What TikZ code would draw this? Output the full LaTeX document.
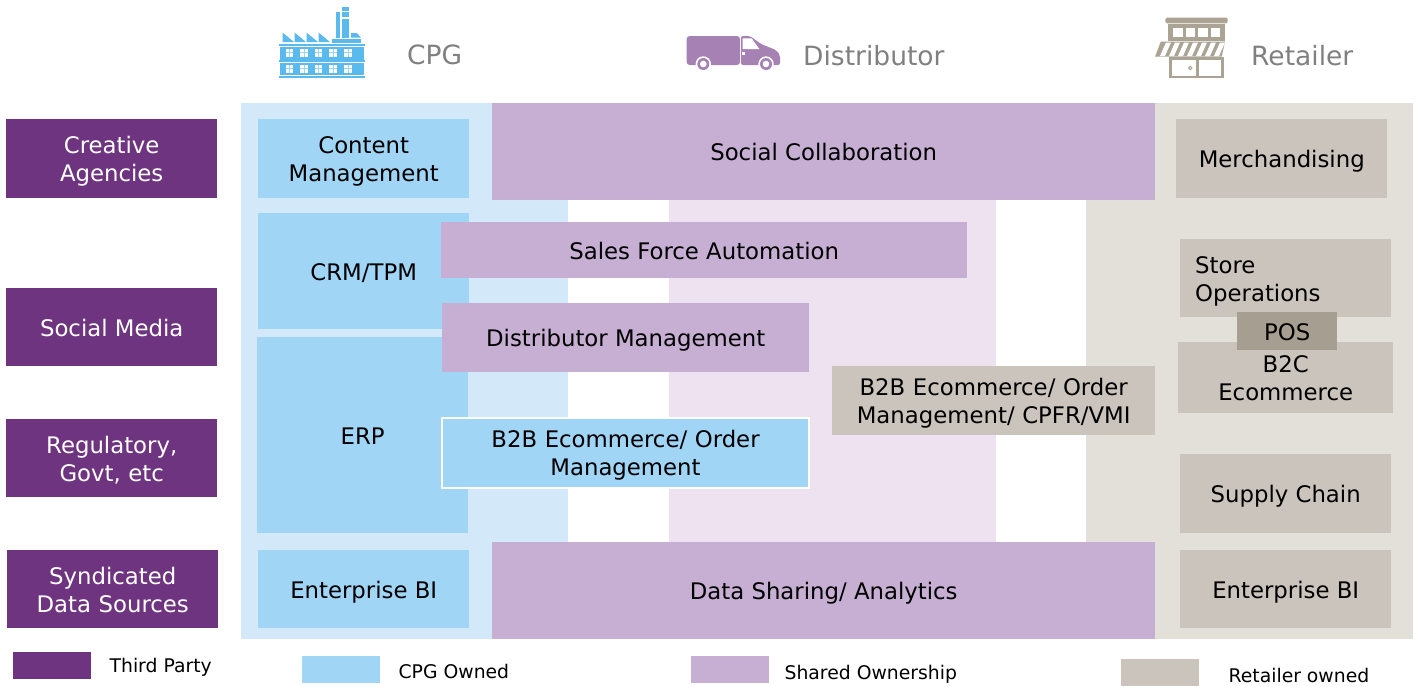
\documentclass[tikz,border=0pt]{standalone}
\usepackage{fontspec}
\setmainfont{DejaVu Sans}
\usetikzlibrary{positioning}

\definecolor{bandblue}{HTML}{D3E9F9}
\definecolor{bandlilac}{HTML}{EEE2F0}
\definecolor{bandtaupe}{HTML}{E3E0DA}
\definecolor{ownblue}{HTML}{A1D5F6}
\definecolor{ownlilac}{HTML}{C7AFD4}
\definecolor{owntaupe}{HTML}{CBC4BC}
\definecolor{thirdparty}{HTML}{6F3480}
\definecolor{posgrey}{HTML}{A69E90}
\definecolor{iconblue}{HTML}{5ABAEE}
\definecolor{iconlilac}{HTML}{A682B4}
\definecolor{icontaupe}{HTML}{ABA394}
\definecolor{headgrey}{HTML}{808080}

\begin{document}
\begin{tikzpicture}[x=1pt,y=-1pt,
	box/.style 2 args={anchor=north west,inner sep=0pt,align=center,text=black,
		minimum width=#1pt,minimum height=#2pt,font=\fontsize{22.8}{28}\selectfont,
		execute at begin node={\rule{0pt}{26pt}},
		execute at end node={\rule[-8pt]{0pt}{8pt}}},
	head/.style={anchor=west,inner sep=0pt,text=headgrey,font=\fontsize{26.5}{30}\selectfont},
	legend/.style={anchor=north west,minimum width=78pt,minimum height=27pt,inner sep=0pt,fill=#1},
	legendtext/.style={inner sep=0pt,right=18pt of #1,text=black,font=\fontsize{18.8}{22}\selectfont}]
	\useasboundingbox (0,0) rectangle (1417,686);

	% bands
	\fill[bandblue] (241,103) rectangle (568,639);
	\fill[bandlilac] (669,200) rectangle (996,542);
	\fill[bandtaupe] (1086,200) rectangle (1413,542);
	\fill[bandtaupe] (1155,103) rectangle (1413,639);

	% third party column
	\node[box={211}{79},text width=211pt,fill=thirdparty,text=white] (creative) at (6,119) {Creative\\Agencies};
	\node[box={211}{78},fill=thirdparty,text=white] (social) at (6,288) {Social Media};
	\node[box={211}{78},text width=211pt,fill=thirdparty,text=white] (regulatory) at (6,419) {Regulatory,\\Govt, etc};
	\node[box={211}{78},text width=211pt,fill=thirdparty,text=white] (syndicated) at (7,550) {Syndicated\\Data Sources};

	% cpg column
	\node[box={211}{79},text width=211pt,fill=ownblue] (content) at (258,119) {Content\\Management};
	\node[box={211}{116},fill=ownblue] (crm) at (258,213) {CRM/TPM};
	\node[box={211}{196},fill=ownblue] (erp) at (257,337) {ERP};
	\node[box={211}{78},fill=ownblue] (cpgbi) at (258,550) {Enterprise BI};

	% shared
	\node[box={663}{97},fill=ownlilac] (collab) at (492,103) {Social Collaboration};
	\node[box={663}{97},fill=ownlilac] (sharing) at (492,542) {Data Sharing/ Analytics};
	\node[box={526}{56},fill=ownlilac] (sfa) at (441,222) {Sales Force Automation};
	\node[box={367}{69},fill=ownlilac] (distmgmt) at (442,303) {Distributor Management};
	\node[box={367}{70},text width=363pt,fill=ownblue,draw=white,line width=2pt] (b2bcpg) at (441,416.5) {B2B Ecommerce/ Order\\Management};
	\node[box={323}{69},text width=323pt,fill=owntaupe] (b2bdist) at (832,366) {B2B Ecommerce/ Order\\Management/ CPFR/VMI};

	% retailer column
	\node[box={211}{79},fill=owntaupe] (merch) at (1176,119) {Merchandising};
	\node[box={211}{78},fill=owntaupe,align=left,text width=181pt,inner xsep=15pt] (store) at (1180,239) {Store\\Operations};
	\node[box={215}{71},text width=215pt,fill=owntaupe] (b2c) at (1178,342) {B2C\\Ecommerce};
	\node[box={100}{38},fill=posgrey] (pos) at (1237,312) {POS};
	\node[box={211}{79},fill=owntaupe] (supply) at (1180,454) {Supply Chain};
	\node[box={211}{78},fill=owntaupe] (retailbi) at (1180,550) {Enterprise BI};

	% headers
	\node[head] (cpg) at (407,55) {CPG};
	\node[head] (distributor) at (803,56) {Distributor};
	\node[head] (retailer) at (1251,56) {Retailer};

	% legend
	\node[legend=thirdparty] (keythird) at (13,652) {};
	\node[legendtext=keythird,yshift=-2pt] {Third Party};
	\node[legend=ownblue] (keycpg) at (302,656) {};
	\node[legendtext=keycpg,yshift=-2pt] {CPG Owned};
	\node[legend=ownlilac] (keyshared) at (691,656) {};
	\node[legendtext=keyshared,xshift=-3pt,yshift=-5pt] {Shared Ownership};
	\node[legend=owntaupe] (keyretail) at (1121,659) {};
	\node[legendtext=keyretail,xshift=11pt,yshift=-3pt] {Retailer owned};

	% factory
	\begin{scope}[iconblue]
	\fill (279,44) rectangle (365,46);
	\fill (280,47) rectangle (364,59.5);
	\fill (279,60) rectangle (365,62);
	\fill (280,63) rectangle (364,75);
	\fill (279,76) rectangle (365,78);
	\foreach \i in {0,1,2,3}
		\fill (282.7+12*\i,32.7) -- (282.7+12*\i,42) -- (294+12*\i,42) -- cycle;
	\fill (332,38.7) rectangle (361,43);
	\fill (336,12) rectangle (340.3,37.7);
	\fill (342,6.7) rectangle (349,11);
	\fill (342,12) rectangle (349,16.7);
	\fill (342,18.7) rectangle (349,37.7);
	\fill (351,33) -- (356.7,33) -- (361,37.7) -- (351,37.7) -- cycle;
	\foreach \x in {286,300.3,315,329.3,344.3}
		\foreach \y in {49,65}{
			\fill[white] (\x,\y) rectangle (\x+7.4,\y+7.7);
			\draw[iconblue!60,line width=0.8pt] (\x+3.7,\y) -- (\x+3.7,\y+7.7) (\x,\y+3.8) -- (\x+7.4,\y+3.8);
		}
	\end{scope}

	% van
	\fill[iconlilac,rounded corners=3pt] (686.7,36) rectangle (740,65);
	\fill[iconlilac,rounded corners=2pt] (741,36) -- (750,36) -- (761,44) -- (776,50) -- (780,55) -- (780,65) -- (741,65) -- cycle;
	\fill[white] (742.7,38.3) -- (751.7,38.3) -- (759.3,49) -- (742.7,49) -- cycle;
	\fill[white] (742,52.3) rectangle (744.7,55);
	\foreach \x in {703.3,766}{
		\fill[white] (\x,64) circle (7.7pt);
		\fill[iconlilac] (\x,64) circle (6pt);
		\fill[white] (\x,64) circle (3.3pt);
	}

	% store
	\begin{scope}[icontaupe]
	\fill[rounded corners=1.5pt] (1165.3,23.3) -- (1165.3,17.7) -- (1227.7,17.7) -- (1227.7,23.3) -- cycle;
	\fill (1168.3,24) rectangle (1225,43.3);
	\foreach \x in {1173.3,1185.7,1198.3,1210.7}
		\fill[white] (\x,27.7) rectangle (\x+9.4,37.3);
	\fill[white] (1159,40.5) rectangle (1227,44);
	\fill (1160.7,41.7) -- (1225,41.7) -- (1221.7,56.7) -- (1155,56.7) -- cycle;
	\foreach \i in {0,1,...,6}
		\fill[white] (1166+9*\i,42.5) -- (1171+9*\i,42.5) -- (1165+9*\i,56) -- (1160+9*\i,56) -- cycle;
	\fill (1169,56.7) rectangle (1224.3,77.7);
	\fill[white] (1172.3,60) rectangle (1195.7,75.7);
	\fill[white] (1199,60) rectangle (1221,75.7);
	\draw[line width=1pt] (1190.3,68) circle (1.7pt);
	\end{scope}
\end{tikzpicture}
\end{document}
